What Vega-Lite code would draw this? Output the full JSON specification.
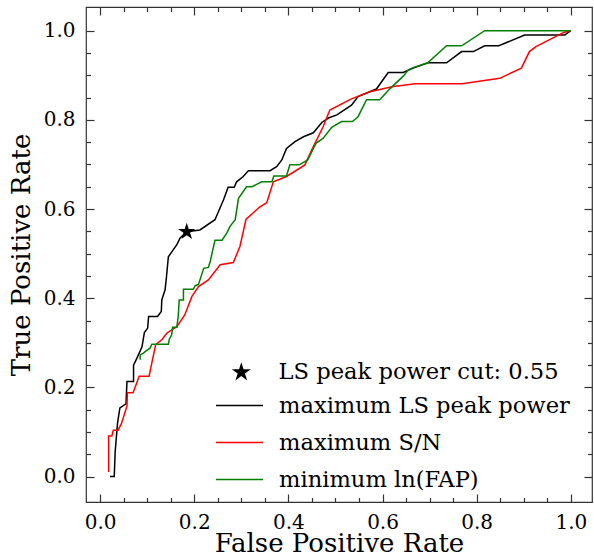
{
  "$schema": "https://vega.github.io/schema/vega-lite/v6.json",
  "width": 506,
  "height": 495,
  "autosize": "none",
  "padding": {"left": 86, "top": 7, "right": 2, "bottom": 56},
  "config": {
    "font": "DejaVu Serif",
    "view": {"stroke": "#333", "strokeWidth": 1.2},
    "axis": {
      "grid": false, "domain": false,
      "labelFont": "DejaVu Serif", "labelFontSize": 20, "labelColor": "black",
      "titleFont": "DejaVu Serif", "titleFontSize": 26, "titleFontWeight": "normal", "titleColor": "black",
      "tickColor": "#333", "tickWidth": 1.2
    },
    "legend": {
      "labelFont": "DejaVu Serif", "labelFontSize": 22.6, "labelColor": "black",
      "labelLimit": 400, "padding": 0
    }
  },
  "datasets": {
    "curves": [
      {"s":"maximum LS peak power","i":0,"x":0.021,"y":0.0},
      {"s":"maximum LS peak power","i":1,"x":0.030,"y":0.0},
      {"s":"maximum LS peak power","i":2,"x":0.032,"y":0.056},
      {"s":"maximum LS peak power","i":3,"x":0.037,"y":0.120},
      {"s":"maximum LS peak power","i":4,"x":0.042,"y":0.154},
      {"s":"maximum LS peak power","i":5,"x":0.055,"y":0.163},
      {"s":"maximum LS peak power","i":6,"x":0.057,"y":0.213},
      {"s":"maximum LS peak power","i":7,"x":0.071,"y":0.213},
      {"s":"maximum LS peak power","i":8,"x":0.071,"y":0.250},
      {"s":"maximum LS peak power","i":9,"x":0.078,"y":0.265},
      {"s":"maximum LS peak power","i":10,"x":0.089,"y":0.291},
      {"s":"maximum LS peak power","i":11,"x":0.094,"y":0.323},
      {"s":"maximum LS peak power","i":12,"x":0.101,"y":0.333},
      {"s":"maximum LS peak power","i":13,"x":0.103,"y":0.359},
      {"s":"maximum LS peak power","i":14,"x":0.122,"y":0.359},
      {"s":"maximum LS peak power","i":15,"x":0.130,"y":0.370},
      {"s":"maximum LS peak power","i":16,"x":0.131,"y":0.396},
      {"s":"maximum LS peak power","i":17,"x":0.138,"y":0.419},
      {"s":"maximum LS peak power","i":18,"x":0.141,"y":0.448},
      {"s":"maximum LS peak power","i":19,"x":0.145,"y":0.493},
      {"s":"maximum LS peak power","i":20,"x":0.163,"y":0.520},
      {"s":"maximum LS peak power","i":21,"x":0.170,"y":0.535},
      {"s":"maximum LS peak power","i":22,"x":0.184,"y":0.549},
      {"s":"maximum LS peak power","i":23,"x":0.212,"y":0.553},
      {"s":"maximum LS peak power","i":24,"x":0.244,"y":0.576},
      {"s":"maximum LS peak power","i":25,"x":0.262,"y":0.620},
      {"s":"maximum LS peak power","i":26,"x":0.272,"y":0.649},
      {"s":"maximum LS peak power","i":27,"x":0.285,"y":0.649},
      {"s":"maximum LS peak power","i":28,"x":0.290,"y":0.661},
      {"s":"maximum LS peak power","i":29,"x":0.304,"y":0.673},
      {"s":"maximum LS peak power","i":30,"x":0.315,"y":0.686},
      {"s":"maximum LS peak power","i":31,"x":0.361,"y":0.686},
      {"s":"maximum LS peak power","i":32,"x":0.375,"y":0.695},
      {"s":"maximum LS peak power","i":33,"x":0.386,"y":0.710},
      {"s":"maximum LS peak power","i":34,"x":0.396,"y":0.736},
      {"s":"maximum LS peak power","i":35,"x":0.414,"y":0.751},
      {"s":"maximum LS peak power","i":36,"x":0.432,"y":0.762},
      {"s":"maximum LS peak power","i":37,"x":0.453,"y":0.771},
      {"s":"maximum LS peak power","i":38,"x":0.471,"y":0.794},
      {"s":"maximum LS peak power","i":39,"x":0.485,"y":0.804},
      {"s":"maximum LS peak power","i":40,"x":0.503,"y":0.811},
      {"s":"maximum LS peak power","i":41,"x":0.534,"y":0.833},
      {"s":"maximum LS peak power","i":42,"x":0.548,"y":0.852},
      {"s":"maximum LS peak power","i":43,"x":0.587,"y":0.869},
      {"s":"maximum LS peak power","i":44,"x":0.612,"y":0.906},
      {"s":"maximum LS peak power","i":45,"x":0.644,"y":0.906},
      {"s":"maximum LS peak power","i":46,"x":0.665,"y":0.916},
      {"s":"maximum LS peak power","i":47,"x":0.697,"y":0.928},
      {"s":"maximum LS peak power","i":48,"x":0.736,"y":0.928},
      {"s":"maximum LS peak power","i":49,"x":0.768,"y":0.953},
      {"s":"maximum LS peak power","i":50,"x":0.793,"y":0.953},
      {"s":"maximum LS peak power","i":51,"x":0.817,"y":0.966},
      {"s":"maximum LS peak power","i":52,"x":0.847,"y":0.966},
      {"s":"maximum LS peak power","i":53,"x":0.902,"y":0.990},
      {"s":"maximum LS peak power","i":54,"x":0.987,"y":0.990},
      {"s":"maximum LS peak power","i":55,"x":1.0,"y":1.0},
      {"s":"maximum S/N","i":0,"x":0.018,"y":0.010},
      {"s":"maximum S/N","i":1,"x":0.018,"y":0.091},
      {"s":"maximum S/N","i":2,"x":0.025,"y":0.091},
      {"s":"maximum S/N","i":3,"x":0.028,"y":0.104},
      {"s":"maximum S/N","i":4,"x":0.038,"y":0.104},
      {"s":"maximum S/N","i":5,"x":0.045,"y":0.118},
      {"s":"maximum S/N","i":6,"x":0.057,"y":0.158},
      {"s":"maximum S/N","i":7,"x":0.058,"y":0.188},
      {"s":"maximum S/N","i":8,"x":0.070,"y":0.188},
      {"s":"maximum S/N","i":9,"x":0.083,"y":0.225},
      {"s":"maximum S/N","i":10,"x":0.104,"y":0.225},
      {"s":"maximum S/N","i":11,"x":0.118,"y":0.296},
      {"s":"maximum S/N","i":12,"x":0.132,"y":0.308},
      {"s":"maximum S/N","i":13,"x":0.142,"y":0.322},
      {"s":"maximum S/N","i":14,"x":0.163,"y":0.336},
      {"s":"maximum S/N","i":15,"x":0.180,"y":0.363},
      {"s":"maximum S/N","i":16,"x":0.195,"y":0.404},
      {"s":"maximum S/N","i":17,"x":0.209,"y":0.426},
      {"s":"maximum S/N","i":18,"x":0.230,"y":0.441},
      {"s":"maximum S/N","i":19,"x":0.255,"y":0.475},
      {"s":"maximum S/N","i":20,"x":0.283,"y":0.480},
      {"s":"maximum S/N","i":21,"x":0.297,"y":0.516},
      {"s":"maximum S/N","i":22,"x":0.310,"y":0.577},
      {"s":"maximum S/N","i":23,"x":0.325,"y":0.591},
      {"s":"maximum S/N","i":24,"x":0.338,"y":0.604},
      {"s":"maximum S/N","i":25,"x":0.354,"y":0.614},
      {"s":"maximum S/N","i":26,"x":0.368,"y":0.661},
      {"s":"maximum S/N","i":27,"x":0.396,"y":0.673},
      {"s":"maximum S/N","i":28,"x":0.435,"y":0.699},
      {"s":"maximum S/N","i":29,"x":0.453,"y":0.740},
      {"s":"maximum S/N","i":30,"x":0.474,"y":0.785},
      {"s":"maximum S/N","i":31,"x":0.488,"y":0.822},
      {"s":"maximum S/N","i":32,"x":0.534,"y":0.847},
      {"s":"maximum S/N","i":33,"x":0.573,"y":0.863},
      {"s":"maximum S/N","i":34,"x":0.620,"y":0.874},
      {"s":"maximum S/N","i":35,"x":0.669,"y":0.881},
      {"s":"maximum S/N","i":36,"x":0.769,"y":0.881},
      {"s":"maximum S/N","i":37,"x":0.849,"y":0.893},
      {"s":"maximum S/N","i":38,"x":0.895,"y":0.916},
      {"s":"maximum S/N","i":39,"x":0.912,"y":0.953},
      {"s":"maximum S/N","i":40,"x":0.926,"y":0.964},
      {"s":"maximum S/N","i":41,"x":0.985,"y":0.996},
      {"s":"maximum S/N","i":42,"x":1.0,"y":1.0},
      {"s":"minimum ln(FAP)","i":0,"x":0.085,"y":0.262},
      {"s":"minimum ln(FAP)","i":1,"x":0.085,"y":0.273},
      {"s":"minimum ln(FAP)","i":2,"x":0.092,"y":0.277},
      {"s":"minimum ln(FAP)","i":3,"x":0.099,"y":0.283},
      {"s":"minimum ln(FAP)","i":4,"x":0.106,"y":0.288},
      {"s":"minimum ln(FAP)","i":5,"x":0.110,"y":0.297},
      {"s":"minimum ln(FAP)","i":6,"x":0.145,"y":0.297},
      {"s":"minimum ln(FAP)","i":7,"x":0.147,"y":0.308},
      {"s":"minimum ln(FAP)","i":8,"x":0.152,"y":0.318},
      {"s":"minimum ln(FAP)","i":9,"x":0.154,"y":0.335},
      {"s":"minimum ln(FAP)","i":10,"x":0.163,"y":0.335},
      {"s":"minimum ln(FAP)","i":11,"x":0.166,"y":0.360},
      {"s":"minimum ln(FAP)","i":12,"x":0.168,"y":0.396},
      {"s":"minimum ln(FAP)","i":13,"x":0.177,"y":0.396},
      {"s":"minimum ln(FAP)","i":14,"x":0.177,"y":0.420},
      {"s":"minimum ln(FAP)","i":15,"x":0.198,"y":0.420},
      {"s":"minimum ln(FAP)","i":16,"x":0.202,"y":0.428},
      {"s":"minimum ln(FAP)","i":17,"x":0.209,"y":0.431},
      {"s":"minimum ln(FAP)","i":18,"x":0.220,"y":0.467},
      {"s":"minimum ln(FAP)","i":19,"x":0.230,"y":0.469},
      {"s":"minimum ln(FAP)","i":20,"x":0.234,"y":0.483},
      {"s":"minimum ln(FAP)","i":21,"x":0.244,"y":0.530},
      {"s":"minimum ln(FAP)","i":22,"x":0.259,"y":0.530},
      {"s":"minimum ln(FAP)","i":23,"x":0.269,"y":0.546},
      {"s":"minimum ln(FAP)","i":24,"x":0.276,"y":0.561},
      {"s":"minimum ln(FAP)","i":25,"x":0.287,"y":0.576},
      {"s":"minimum ln(FAP)","i":26,"x":0.294,"y":0.624},
      {"s":"minimum ln(FAP)","i":27,"x":0.311,"y":0.650},
      {"s":"minimum ln(FAP)","i":28,"x":0.323,"y":0.650},
      {"s":"minimum ln(FAP)","i":29,"x":0.343,"y":0.661},
      {"s":"minimum ln(FAP)","i":30,"x":0.365,"y":0.661},
      {"s":"minimum ln(FAP)","i":31,"x":0.369,"y":0.674},
      {"s":"minimum ln(FAP)","i":32,"x":0.396,"y":0.674},
      {"s":"minimum ln(FAP)","i":33,"x":0.403,"y":0.699},
      {"s":"minimum ln(FAP)","i":34,"x":0.423,"y":0.699},
      {"s":"minimum ln(FAP)","i":35,"x":0.441,"y":0.710},
      {"s":"minimum ln(FAP)","i":36,"x":0.459,"y":0.748},
      {"s":"minimum ln(FAP)","i":37,"x":0.474,"y":0.759},
      {"s":"minimum ln(FAP)","i":38,"x":0.492,"y":0.783},
      {"s":"minimum ln(FAP)","i":39,"x":0.513,"y":0.796},
      {"s":"minimum ln(FAP)","i":40,"x":0.536,"y":0.796},
      {"s":"minimum ln(FAP)","i":41,"x":0.548,"y":0.807},
      {"s":"minimum ln(FAP)","i":42,"x":0.566,"y":0.845},
      {"s":"minimum ln(FAP)","i":43,"x":0.594,"y":0.845},
      {"s":"minimum ln(FAP)","i":44,"x":0.616,"y":0.870},
      {"s":"minimum ln(FAP)","i":45,"x":0.644,"y":0.898},
      {"s":"minimum ln(FAP)","i":46,"x":0.655,"y":0.912},
      {"s":"minimum ln(FAP)","i":47,"x":0.665,"y":0.917},
      {"s":"minimum ln(FAP)","i":48,"x":0.696,"y":0.928},
      {"s":"minimum ln(FAP)","i":49,"x":0.736,"y":0.966},
      {"s":"minimum ln(FAP)","i":50,"x":0.768,"y":0.966},
      {"s":"minimum ln(FAP)","i":51,"x":0.817,"y":1.0},
      {"s":"minimum ln(FAP)","i":52,"x":1.0,"y":1.0}
    ],
    "star": [
      {"s":"LS peak power cut: 0.55","x":0.184,"y":0.549}
    ]
  },
  "layer": [
    {
      "data": {"name": "curves"},
      "mark": {"type": "line", "strokeWidth": 1.5},
      "encoding": {
        "x": {"field": "x", "type": "quantitative",
          "scale": {"domain": [-0.03, 1.045], "nice": false, "zero": false},
          "axis": {"orient": "bottom", "title": "False Positive Rate", "values": [0,0.2,0.4,0.6,0.8,1], "format": ".1f", "tickSize": -8, "labelPadding": 18, "titlePadding": -2}},
        "y": {"field": "y", "type": "quantitative",
          "scale": {"domain": [-0.057, 1.053], "nice": false, "zero": false},
          "axis": {"orient": "left", "title": "True Positive Rate", "values": [0,0.2,0.4,0.6,0.8,1], "format": ".1f", "tickSize": -8, "labelPadding": 19, "titlePadding": 9}},
        "color": {"field": "s", "type": "nominal",
          "scale": {"domain": ["maximum LS peak power", "maximum S/N", "minimum ln(FAP)"], "range": ["black", "red", "green"]},
          "legend": {"title": null, "orient": "none", "legendX": 129, "legendY": 374,
            "symbolType": "stroke", "symbolSize": 2209, "symbolStrokeWidth": 1.5, "labelOffset": 15, "rowPadding": -16}},
        "order": {"field": "i", "type": "quantitative"}
      }
    },
    {
      "data": {"name": "star"},
      "mark": {"type": "point", "filled": true, "size": 330, "opacity": 1, "color": "black"},
      "encoding": {
        "x": {"field": "x", "type": "quantitative",
          "axis": {"orient": "bottom", "title": null, "labels": false, "values": [0.05,0.1,0.15,0.25,0.3,0.35,0.45,0.5,0.55,0.65,0.7,0.75,0.85,0.9,0.95], "tickSize": -4.5}},
        "y": {"field": "y", "type": "quantitative",
          "axis": {"orient": "left", "title": null, "labels": false, "values": [0.05,0.1,0.15,0.25,0.3,0.35,0.45,0.5,0.55,0.65,0.7,0.75,0.85,0.9,0.95], "tickSize": -4.5}},
        "shape": {"field": "s", "type": "nominal",
          "scale": {"domain": ["LS peak power cut: 0.55"], "range": ["M0,-1L0.225,-0.309L0.951,-0.309L0.363,0.118L0.588,0.809L0,0.382L-0.588,0.809L-0.363,0.118L-0.951,-0.309L-0.225,-0.309Z"]},
          "legend": {"title": null, "orient": "none", "legendX": 144, "legendY": 354,
            "symbolSize": 400, "labelOffset": 26, "symbolFillColor": "black", "symbolStrokeWidth": 0}}
      }
    },
    {
      "data": {"name": "star"},
      "mark": {"type": "point", "opacity": 0},
      "encoding": {
        "x": {"field": "x", "type": "quantitative",
          "axis": {"orient": "top", "title": null, "labels": false, "values": [0,0.2,0.4,0.6,0.8,1], "tickSize": -8}},
        "y": {"field": "y", "type": "quantitative",
          "axis": {"orient": "right", "title": null, "labels": false, "values": [0,0.2,0.4,0.6,0.8,1], "tickSize": -8}}
      }
    },
    {
      "data": {"name": "star"},
      "mark": {"type": "point", "opacity": 0},
      "encoding": {
        "x": {"field": "x", "type": "quantitative",
          "axis": {"orient": "top", "title": null, "labels": false, "values": [0.05,0.1,0.15,0.25,0.3,0.35,0.45,0.5,0.55,0.65,0.7,0.75,0.85,0.9,0.95], "tickSize": -4.5}},
        "y": {"field": "y", "type": "quantitative",
          "axis": {"orient": "right", "title": null, "labels": false, "values": [0.05,0.1,0.15,0.25,0.3,0.35,0.45,0.5,0.55,0.65,0.7,0.75,0.85,0.9,0.95], "tickSize": -4.5}}
      }
    }
  ],
  "resolve": {"axis": {"x": "independent", "y": "independent"}}
}
